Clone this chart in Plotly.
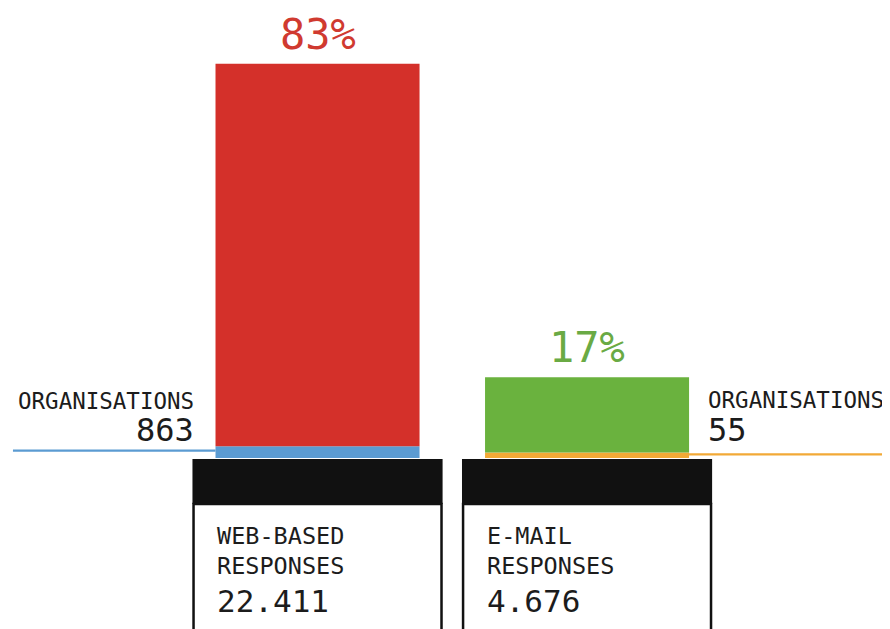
import plotly.graph_objects as go

# ---- data ----
categories = ["WEB-BASED RESPONSES", "E-MAIL RESPONSES"]
share_pct = [83, 17]                 # share of responses (%)
share_labels = ["83%", "17%"]
org_counts = [863, 55]               # organisations
org_band = [2.5, 1.15]               # height of organisations band (chart units)
box_title = [["WEB-BASED", "RESPONSES"], ["E-MAIL", "RESPONSES"]]
responses = ["22.411", "4.676"]

# ---- style ----
top_colors = ["#d4302a", "#6ab23e"]
band_colors = ["#5b9bd2", "#f2a936"]
pct_colors = ["#d03a30", "#6aaa44"]
FONT = "DejaVu Sans Mono"
TXT = "#1c1c1c"
BAR_W = 0.757
BOX_W = 0.928
xpos = [0, 1]

fig = go.Figure()

# organisation band (bottom segment)
fig.add_trace(go.Bar(x=xpos, y=org_band, base=[0, 0], width=BAR_W,
                     marker=dict(color=band_colors, line=dict(width=0)),
                     hoverinfo="skip"))
# share segment (top)
fig.add_trace(go.Bar(x=xpos, y=[p - b for p, b in zip(share_pct, org_band)],
                     base=org_band, width=BAR_W,
                     marker=dict(color=top_colors, line=dict(width=0)),
                     hoverinfo="skip"))

# label boxes: white box with black outline, black header
fig.add_trace(go.Bar(x=xpos, y=[-40, -40], base=[-9.7, -9.7], width=BOX_W - 0.008,
                     marker=dict(color="white", line=dict(color="#111111", width=2.5)),
                     hoverinfo="skip"))
fig.add_trace(go.Bar(x=xpos, y=[-9.5, -9.5], base=[-0.2, -0.2], width=BOX_W,
                     marker=dict(color="#111111", line=dict(width=0)),
                     hoverinfo="skip"))

# organisation lines
line_y = [1.55, 0.75]
fig.add_trace(go.Scatter(x=[-1.13, xpos[0] - BAR_W / 2], y=[line_y[0]] * 2, mode="lines",
                         line=dict(color=band_colors[0], width=2.2), hoverinfo="skip"))
fig.add_trace(go.Scatter(x=[xpos[1] + BAR_W / 2, 2.2], y=[line_y[1]] * 2, mode="lines",
                         line=dict(color=band_colors[1], width=2.2), hoverinfo="skip"))

ann = []
# percentage labels
for i in range(2):
    ann.append(dict(x=xpos[i], y=share_pct[i], text=share_labels[i], showarrow=False,
                    xanchor="center", yanchor="bottom", yshift=3,
                    font=dict(family=FONT, size=42, color=pct_colors[i])))
# organisation labels
ann.append(dict(x=-0.452, y=12.1, text="ORGANISATIONS", showarrow=False, xanchor="right",
                yanchor="middle", font=dict(family=FONT, size=22.5, color=TXT)))
ann.append(dict(x=-0.452, y=5.8, text=str(org_counts[0]), showarrow=False, xanchor="right",
                yanchor="middle", font=dict(family=FONT, size=32, color=TXT)))
ann.append(dict(x=1.443, y=12.2, text="ORGANISATIONS", showarrow=False, xanchor="left",
                yanchor="middle", font=dict(family=FONT, size=22.5, color=TXT)))
ann.append(dict(x=1.443, y=5.9, text=str(org_counts[1]), showarrow=False, xanchor="left",
                yanchor="middle", font=dict(family=FONT, size=32, color=TXT)))
# box labels
for i in range(2):
    xl = xpos[i] - 0.38
    ann.append(dict(x=xl, y=-16.4, text=box_title[i][0], showarrow=False, xanchor="left",
                    yanchor="middle", font=dict(family=FONT, size=23.5, color=TXT)))
    ann.append(dict(x=xl, y=-22.7, text=box_title[i][1], showarrow=False, xanchor="left",
                    yanchor="middle", font=dict(family=FONT, size=23.5, color=TXT)))
    ann.append(dict(x=xl, y=-30.2, text=responses[i], showarrow=False, xanchor="left",
                    yanchor="middle", font=dict(family=FONT, size=31, color=TXT)))

# page body has an 8px margin, so the figure is 8px smaller than the window
fig.update_layout(
    width=882, height=621,
    margin=dict(l=0, r=0, t=0, b=0),
    paper_bgcolor="white", plot_bgcolor="white",
    barmode="overlay", showlegend=False,
    xaxis=dict(range=[-1.1484, 2.124], visible=False, fixedrange=True),
    yaxis=dict(range=[-36.0, 94.74], visible=False, fixedrange=True),
    annotations=ann,
)

fig.write_html("out.html")
